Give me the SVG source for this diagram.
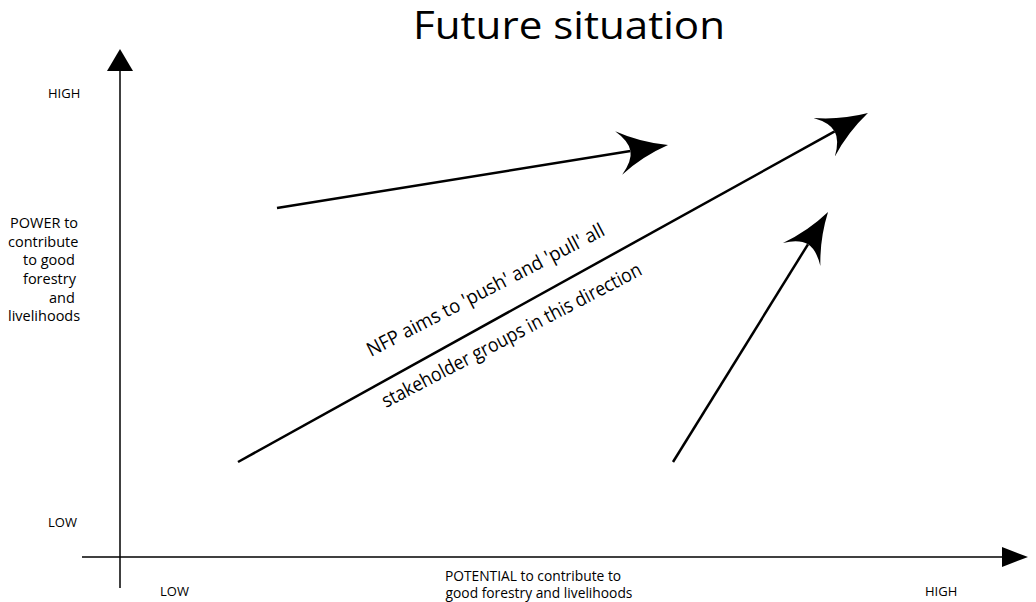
<svg xmlns="http://www.w3.org/2000/svg" width="1036" height="602" viewBox="0 0 1036 602">
<style>
text{font-family:"Open Sans","Noto Sans","Liberation Sans",sans-serif;fill:#000}
.lbl{font-size:13px}
.side{font-size:14.5px}
.bot{font-size:13.8px}
.rot{font-size:19.5px}
.axis{stroke:#000;stroke-width:1.5;fill:none}
.arr{stroke:#000;stroke-width:2.5;fill:none;marker-end:url(#head)}
</style>
<defs>
<marker id="head" markerUnits="userSpaceOnUse" viewBox="-55 -25 60 50" markerWidth="60" markerHeight="50" refX="-38" refY="0" orient="auto">
<path d="M0,0 Q-27,-7 -50,-22 Q-38,-10 -38,0 Q-38,10 -50,22 Q-27,7 0,0 Z" fill="#000"/>
</marker>
</defs>
<rect width="1036" height="602" fill="#fff"/>
<text x="413" y="39" font-size="38" textLength="312" lengthAdjust="spacingAndGlyphs">Future situation</text>
<g id="axes">
<line class="axis" x1="120" y1="588" x2="120" y2="71"/>
<polygon points="107,71 133,71 120,49" fill="#000"/>
<line class="axis" x1="82" y1="557" x2="1002" y2="557"/>
<polygon points="1002,547 1002,567 1028,557" fill="#000"/>
</g>
<g id="labels">
<text class="lbl" x="48" y="98">HIGH</text>
<text class="lbl" x="48" y="527">LOW</text>
<text class="lbl" x="160" y="596">LOW</text>
<text class="lbl" x="925" y="596">HIGH</text>
<text class="bot" x="533" y="581" text-anchor="middle">POTENTIAL to contribute to</text>
<text class="bot" x="539" y="598" text-anchor="middle">good forestry and livelihoods</text>
<text class="side" x="10" y="228">POWER to</text>
<text class="side" x="8" y="247">contribute</text>
<text class="side" x="23" y="265">to good</text>
<text class="side" x="23" y="284">forestry</text>
<text class="side" x="49" y="303">and</text>
<text class="side" x="8" y="321">livelihoods</text>
</g>
<g id="connectors">
<line class="arr" x1="277" y1="208" x2="630.5" y2="151"/>
<line class="arr" x1="238" y1="462" x2="834.7" y2="131.4"/>
<line class="arr" x1="673" y1="462" x2="808" y2="244.3"/>
</g>
<g id="arrow-label">
<text class="rot" transform="translate(371,357) rotate(-27.5)" textLength="265" lengthAdjust="spacingAndGlyphs">NFP aims to 'push' and 'pull' all</text>
<text class="rot" transform="translate(386,408) rotate(-27.5)" textLength="290" lengthAdjust="spacingAndGlyphs">stakeholder groups in this direction</text>
</g>
</svg>
